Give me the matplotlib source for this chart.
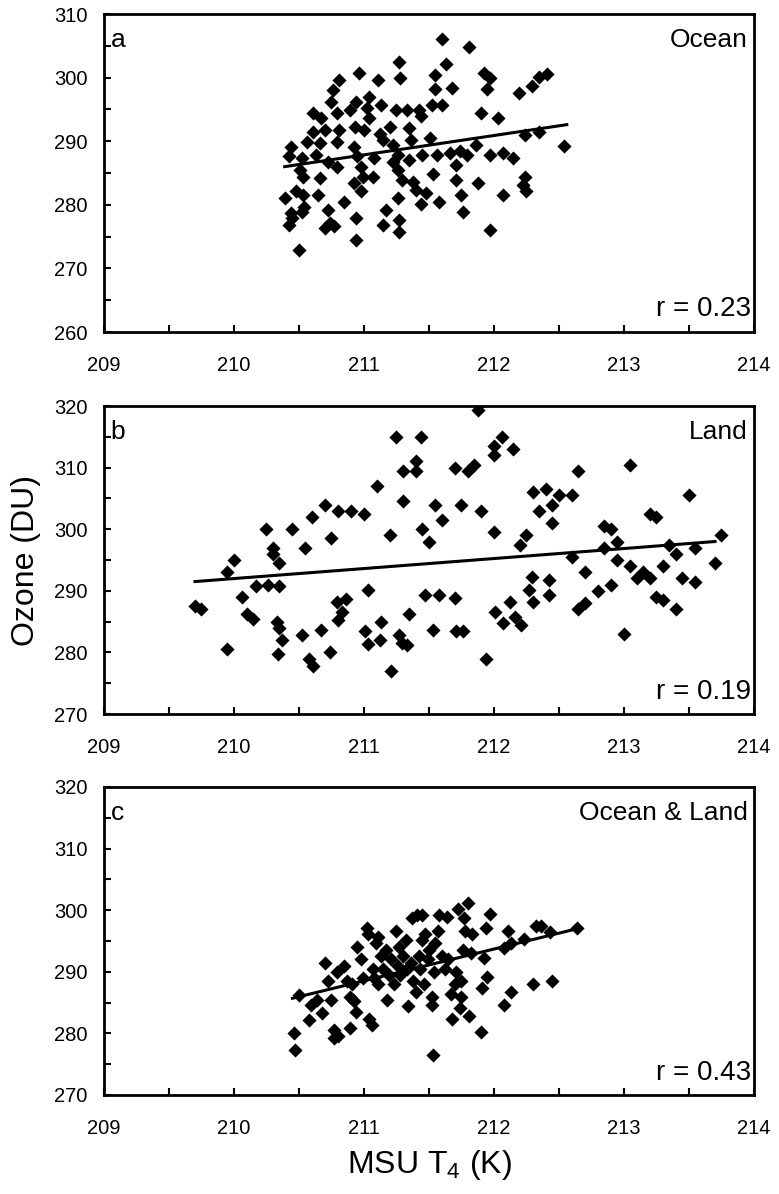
"""
Ozone vs MSU T4 scatter, three stacked panels (ocean, land, both).
"""
import matplotlib
matplotlib.use('Agg')
import matplotlib.pyplot as plt
from matplotlib.ticker import MultipleLocator

plt.rcParams['font.family'] = ['Liberation Sans', 'DejaVu Sans']
plt.rcParams['mathtext.fontset'] = 'custom'
plt.rcParams['mathtext.rm'] = 'Liberation Sans'

TXT = ['Liberation Sans', 'DejaVu Sans']

# ---- panel a : ocean ----
ocean_t4 = [211.60, 211.81, 211.27, 211.63, 210.96, 210.81, 211.11, 211.28, 211.55, 211.92,
            211.97, 211.68, 211.55, 211.95, 212.19, 212.29, 212.35, 212.41, 210.76, 210.75,
            210.94, 211.04, 211.13, 211.25, 211.33, 211.42, 211.44, 211.52, 211.60, 211.90,
            212.03, 210.61, 210.67, 210.79, 210.89, 211.02, 211.04, 210.93, 210.61, 210.70,
            210.81, 211.00, 211.12, 211.20, 211.35, 210.56, 210.66, 210.79, 211.15, 211.36,
            211.51, 211.86, 212.24, 212.35, 212.54, 210.44, 210.42, 210.52, 210.63, 210.72,
            210.92, 210.95, 211.08, 211.22, 211.26, 211.22, 211.35, 211.45, 211.56, 211.66,
            211.74, 211.79, 211.71, 211.97, 212.07, 212.15, 210.51, 210.53, 210.66, 210.79,
            210.98, 210.99, 211.07, 211.26, 211.29, 211.38, 211.53, 211.71, 211.88, 212.24,
            212.22, 212.25, 210.48, 210.53, 210.39, 210.65, 210.85, 210.98, 211.26, 211.40,
            211.48, 211.44, 211.58, 211.75, 212.07, 210.44, 210.52, 210.42, 210.72, 210.70,
            210.77, 210.74, 210.94, 211.17, 211.15, 211.27, 211.27, 211.76, 211.97, 210.94,
            210.50, 210.45, 210.54, 210.92]
ocean_o3 = [306.0, 304.8, 302.5, 302.2, 300.8, 299.7, 299.6, 300.0, 300.4, 300.8,
            299.9, 298.3, 298.2, 298.2, 297.6, 298.7, 300.1, 300.5, 298.0, 296.2,
            296.2, 297.0, 295.7, 294.9, 294.9, 294.9, 294.0, 295.7, 295.7, 294.4,
            293.6, 294.4, 293.6, 294.4, 294.9, 295.2, 293.6, 292.3, 291.5, 291.8,
            291.8, 291.8, 291.2, 292.3, 292.0, 289.9, 289.7, 289.9, 290.2, 290.2,
            290.5, 289.4, 291.0, 291.4, 289.2, 289.1, 287.6, 287.3, 287.8, 286.8,
            289.1, 287.6, 287.3, 289.4, 287.8, 286.8, 287.0, 287.8, 287.8, 288.1,
            288.4, 287.8, 286.3, 287.8, 288.2, 287.3, 285.5, 284.4, 284.2, 286.0,
            286.0, 284.4, 284.4, 285.5, 283.9, 283.6, 284.9, 283.9, 283.4, 284.4,
            283.1, 282.1, 282.1, 281.5, 281.0, 281.5, 280.5, 282.1, 281.0, 282.3,
            281.8, 280.2, 280.5, 281.5, 281.5, 278.7, 278.9, 276.8, 279.2, 276.3,
            276.6, 277.1, 277.9, 279.2, 276.8, 277.6, 275.8, 278.9, 276.1, 274.5,
            272.9, 277.9, 279.7, 283.4]
ocean_fit_t4 = [210.39, 212.56]
ocean_fit_o3 = [286.0, 292.6]

# ---- panel b : land ----
land_t4 = [209.70, 209.75, 209.95, 209.95, 210.00,
           210.25, 210.30, 210.30, 210.45, 210.55, 210.60, 210.70, 210.75, 210.80, 210.90,
           211.00, 211.10, 211.20, 211.30, 211.30, 211.25, 211.40, 211.40, 211.45, 211.44,
           211.50, 211.55, 211.60, 211.70, 211.75, 211.80, 211.85, 211.90, 211.88, 212.00,
           212.00, 212.00, 212.06, 212.15, 212.20, 212.25, 212.30, 212.35, 212.40, 212.45,
           212.45, 212.50,
           210.35, 210.06, 210.17, 210.26, 210.35, 210.10, 210.15, 210.33, 210.35, 210.37,
           210.34, 210.52, 210.58, 210.61, 210.67, 210.74, 210.79, 210.86, 210.83, 210.80,
           211.03, 211.01, 211.03, 211.13, 211.12, 211.21, 211.27, 211.29, 211.33, 211.35,
           211.47, 211.53, 211.58, 211.70, 211.71, 211.76, 211.94, 212.01, 212.07, 212.12,
           212.16, 212.21, 212.29, 212.27, 212.30, 212.42, 212.42,
           212.60, 212.60, 212.65, 212.65, 212.70, 212.70, 212.80, 212.85, 212.85, 212.90,
           212.90, 212.95, 212.95, 213.00, 213.05, 213.05, 213.10, 213.15, 213.20, 213.20,
           213.25, 213.25, 213.30, 213.30, 213.35, 213.40, 213.40, 213.45, 213.50, 213.55,
           213.55, 213.70, 213.75]
land_o3 = [287.5, 287.0, 280.5, 293.0, 295.0,
           300.0, 297.0, 296.0, 300.0, 297.0, 302.0, 304.0, 298.5, 303.0, 303.0,
           302.5, 307.0, 299.0, 304.5, 309.5, 315.0, 311.0, 309.5, 300.0, 315.0,
           298.0, 304.0, 301.5, 310.0, 304.0, 309.5, 310.5, 303.0, 319.3, 299.5,
           313.5, 312.0, 315.0, 313.0, 297.5, 299.0, 306.0, 303.0, 306.5, 304.0,
           301.0, 305.5,
           294.5, 289.0, 290.7, 290.9, 290.7, 286.3, 285.5, 285.0, 283.9, 282.0,
           279.8, 282.8, 279.0, 277.8, 283.6, 280.1, 288.2, 288.6, 286.6, 285.3,
           290.1, 283.4, 281.4, 285.0, 282.0, 276.9, 282.8, 281.5, 281.2, 286.3,
           289.3, 283.6, 289.3, 288.9, 283.4, 283.4, 279.0, 286.6, 284.8, 288.2,
           285.8, 284.4, 292.3, 290.2, 288.2, 291.8, 289.3,
           305.5, 295.5, 309.5, 287.0, 293.0, 288.0, 290.0, 300.5, 297.0, 291.0,
           300.0, 295.0, 298.0, 283.0, 310.5, 294.0, 292.0, 293.0, 302.5, 292.0,
           302.0, 289.0, 294.0, 288.5, 297.5, 296.0, 287.0, 292.0, 305.5, 297.0,
           291.5, 294.5, 299.0]
land_fit_t4 = [209.70, 213.70]
land_fit_o3 = [291.5, 298.0]

# ---- panel c : ocean & land ----
both_t4 = [210.46, 210.47, 210.50, 210.58, 210.59, 210.64, 210.68, 210.70, 210.72, 210.75,
           210.77, 210.77, 210.80, 210.79, 210.85, 210.87, 210.89, 210.89, 210.91, 210.92,
           210.94, 210.95, 210.98, 210.99, 211.02, 211.03, 211.04, 211.06, 211.07, 211.08,
           211.09, 211.11, 211.11, 211.13, 211.15, 211.17, 211.18, 211.19, 211.21, 211.23,
           211.25, 211.26, 211.27, 211.28, 211.30, 211.32, 211.33, 211.34, 211.36, 211.37,
           211.38, 211.40, 211.41, 211.42, 211.43, 211.45, 211.45, 211.46, 211.47, 211.49,
           211.50, 211.52, 211.52, 211.53, 211.54, 211.55, 211.57, 211.58, 211.60, 211.62,
           211.64, 211.65, 211.67, 211.68, 211.70, 211.71, 211.72, 211.74, 211.75, 211.75,
           211.76, 211.77, 211.78, 211.80, 211.81, 211.82, 211.83, 211.90, 211.91, 211.92,
           211.94, 211.95, 211.97, 212.08, 212.08, 212.11, 212.13, 212.13, 212.23, 212.30,
           212.32, 212.36, 212.43, 212.45, 212.64]
both_o3 = [280.1, 277.3, 286.2, 282.2, 284.6, 285.4, 283.3, 291.5, 288.5, 285.4,
           280.6, 279.3, 279.5, 290.0, 291.0, 288.5, 280.8, 285.9, 288.0, 285.2,
           283.4, 294.1, 292.0, 289.0, 297.1, 296.1, 282.3, 281.3, 290.5, 289.0,
           294.6, 295.6, 288.0, 292.6, 290.5, 293.6, 285.4, 289.5, 292.0, 288.0,
           296.6, 291.0, 294.1, 289.5, 292.6, 295.1, 290.5, 284.4, 291.5, 298.7,
           288.5, 286.7, 299.2, 292.6, 290.5, 295.1, 299.2, 288.0, 296.1, 292.0,
           293.6, 285.9, 284.6, 276.5, 290.0, 294.6, 296.6, 299.2, 292.6, 290.5,
           298.9, 292.0, 286.4, 282.3, 288.0, 290.0, 300.2, 284.1, 285.9, 288.5,
           293.6, 298.7, 296.6, 301.2, 282.9, 293.1, 296.1, 280.3, 287.4, 292.3,
           297.1, 289.2, 299.4, 293.8, 284.6, 296.6, 294.6, 286.7, 295.4, 288.0,
           297.4, 297.4, 296.4, 288.5, 297.1]
both_fit_t4 = [210.45, 212.66]
both_fit_o3 = [285.7, 297.1]

panel_letters = ['a', 'b', 'c']
panel_names = ['Ocean', 'Land', 'Ocean & Land']
r_labels = ['r = 0.23', 'r = 0.19', 'r = 0.43']
ylims = [(260, 310), (270, 320), (270, 320)]
xlim = (209, 214)

W, H = 779, 1194
fig = plt.figure(figsize=(W / 100, H / 100), dpi=100)

left = 104 / W
width = (754 - 104) / W
# pixel top/bottom of each panel
boxes = [(14, 332), (406, 714), (787, 1095)]

series = [(ocean_t4, ocean_o3, ocean_fit_t4, ocean_fit_o3),
          (land_t4, land_o3, land_fit_t4, land_fit_o3),
          (both_t4, both_o3, both_fit_t4, both_fit_o3)]

for i, (top, bot) in enumerate(boxes):
    ax = fig.add_axes([left, 1 - bot / H, width, (bot - top) / H])
    tx, oy, fx, fy = series[i]
    ax.scatter(tx, oy, marker='D', s=52, color='black', linewidths=0, zorder=3)
    ax.plot(fx, fy, color='black', linewidth=2.2, zorder=4)

    ax.set_xlim(xlim)
    ax.set_ylim(ylims[i])
    ax.xaxis.set_major_locator(MultipleLocator(1))
    ax.xaxis.set_minor_locator(MultipleLocator(0.5))
    ax.yaxis.set_major_locator(MultipleLocator(10))
    ax.yaxis.set_minor_locator(MultipleLocator(5))
    ax.tick_params(which='both', direction='in', top=False, right=False,
                   width=1.5, length=5, labelsize=14.5)
    ax.tick_params(axis='x', pad=17)
    ax.tick_params(axis='y', pad=12)
    for sp in ax.spines.values():
        sp.set_linewidth(2.0)

    ax.text(0.010, 0.955, panel_letters[i], transform=ax.transAxes,
            ha='left', va='top', fontsize=19, family=TXT)
    ax.text(0.99, 0.955, panel_names[i], transform=ax.transAxes,
            ha='right', va='top', fontsize=19, family=TXT)
    ax.text(0.995, 0.03, r_labels[i], transform=ax.transAxes,
            ha='right', va='bottom', fontsize=20, family=TXT)

b_top, b_bot = boxes[1]
fig.text(26 / W, 1 - (b_top + b_bot) / 2 / H, 'Ozone (DU)', rotation=90,
         ha='center', va='center', fontsize=23, family=TXT)
fig.text((104 + 754) / 2 / W, 1 - 1165 / H, r'MSU T$_{\mathrm{4}}$ (K)',
         ha='center', va='center', fontsize=23, family=TXT)

fig.savefig('out.png', dpi=100)
plt.close(fig)
